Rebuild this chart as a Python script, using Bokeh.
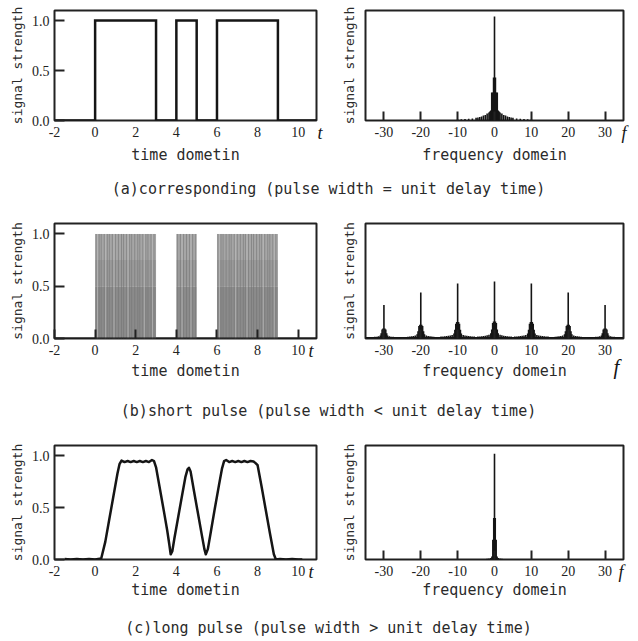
from bokeh.plotting import figure
from bokeh.layouts import column, row
from bokeh.models import Range1d, FixedTicker, PrintfTickFormatter, LinearAxis
from bokeh.core.properties import value
from bokeh.embed import file_html
from bokeh.resources import INLINE

# ---------------- data ----------------
pulse_start = [0, 4, 6]
pulse_end = [3, 5, 9]
t_ticks = [-2, 0, 2, 4, 6, 8, 10]
f_ticks = [-30, -20, -10, 0, 10, 20, 30]
s_ticks = [0.0, 0.5, 1.0]

# (b) short pulse train: grey bands and streaks inside the pulse windows
b_band_bottom = [0.0, 0.5, 0.75]
b_band_top = [0.5, 0.75, 1.0]
b_band_color = ["#8b8b8b", "#9a9a9a", "#a6a6a6"]
b_dark_streaks = [0.05, 0.2, 0.3, 0.45, 0.6, 0.7, 0.85, 1.0, 1.15, 1.3, 1.4, 1.55, 1.7,
                  1.8, 1.95, 2.1, 2.2, 2.35, 2.5, 2.6, 2.75, 2.9,
                  4.05, 4.2, 4.35, 4.5, 4.65, 4.8, 4.95,
                  6.05, 6.2, 6.3, 6.45, 6.6, 6.7, 6.85, 7.0, 7.15, 7.3, 7.4, 7.55, 7.7,
                  7.8, 7.95, 8.1, 8.2, 8.35, 8.5, 8.6, 8.75, 8.9]
b_light_streaks = [0.12, 0.52, 0.93, 1.62, 2.42, 2.83, 4.28, 4.72, 6.12, 6.92, 7.48, 8.28, 8.82]

# (c) long pulse: smoothed signal
t_c = [-1.5, -1.2, -0.9, -0.6, -0.3, 0.0, 0.3, 0.5, 0.7, 0.9, 1.1, 1.2, 1.3, 1.45, 1.6,
       1.75, 1.9, 2.05, 2.2, 2.35, 2.5, 2.65, 2.8, 2.9, 3.0, 3.2, 3.4, 3.55, 3.65, 3.72,
       3.8, 3.9, 4.1, 4.3, 4.45, 4.55, 4.62, 4.7, 4.85, 5.05, 5.25, 5.38, 5.45, 5.55, 5.7,
       5.9, 6.1, 6.25, 6.35, 6.45, 6.6, 6.75, 6.9, 7.05, 7.2, 7.35, 7.5, 7.65, 7.8, 7.9,
       8.0, 8.2, 8.4, 8.6, 8.8, 8.9, 9.1, 9.4, 9.7, 10.0, 10.2]
s_c = [0.005, 0.0, 0.005, 0.0, 0.005, 0.0, 0.01, 0.17, 0.39, 0.61, 0.83, 0.92, 0.955, 0.94, 0.95,
       0.94, 0.95, 0.94, 0.95, 0.94, 0.95, 0.94, 0.96, 0.95, 0.89, 0.67, 0.45, 0.28, 0.15, 0.05,
       0.08, 0.2, 0.42, 0.64, 0.8, 0.87, 0.885, 0.85, 0.68, 0.46, 0.24, 0.1, 0.05, 0.1, 0.27,
       0.5, 0.72, 0.88, 0.95, 0.96, 0.94, 0.95, 0.94, 0.95, 0.94, 0.95, 0.94, 0.95, 0.945, 0.93,
       0.91, 0.7, 0.48, 0.26, 0.05, 0.0, 0.005, 0.0, 0.005, 0.0, 0.0]

# (a) spectrum (one side, mirrored)
spec_a_f = [0, 0.25, 0.5, 0.75, 1.0, 1.25, 1.5, 2.0, 2.5, 3.0, 3.5, 4.0, 4.5, 5.0, 6.0, 7.0, 8.0, 9.0, 10.0]
spec_a_amp = [1.04, 0.43, 0.28, 0.28, 0.10, 0.09, 0.08, 0.07, 0.055, 0.05, 0.04, 0.035, 0.03,
              0.027, 0.02, 0.017, 0.014, 0.012, 0.01]
floor_a = 0.006

# (b) spectrum: comb of peaks, each with the same relative base shape
comb_f = [-30, -20, -10, 0, 10, 20, 30]
comb_amp = [0.32, 0.44, 0.525, 0.545, 0.525, 0.44, 0.32]
comb_off = [0.25, 0.5, 0.75, 1.0, 1.5, 2.0, 2.5, 3.0, 3.5, 4.0, 4.5]
comb_rel = [0.3, 0.27, 0.16, 0.09, 0.065, 0.055, 0.05, 0.045, 0.04, 0.035, 0.035]
floor_b = 0.015

# (c) spectrum (one side, mirrored)
spec_c_f = [0, 0.2, 0.45, 0.7, 1.0, 1.5, 2.0]
spec_c_amp = [1.02, 0.40, 0.19, 0.03, 0.015, 0.01, 0.008]
floor_c = 0.004

captions = ["(a)corresponding (pulse width = unit delay time)",
            "(b)short pulse (pulse width < unit delay time)",
            "(c)long pulse (pulse width > unit delay time)"]

T_RANGE = (-2.0, 10.9)
F_RANGE = (-35.0, 35.0)
Y_RANGE = (0.0, 1.1)

MONO = "DejaVu Sans Mono"
SERIF = "Liberation Serif"
INK = "#151515"
NB = "\u00a0"


def make_fig(W, H, L, R, T, B, xr):
    p = figure(width=W, height=H, x_range=Range1d(*xr), y_range=Range1d(*Y_RANGE),
               output_backend="svg", toolbar_location=None,
               min_border_left=L, min_border_right=R, min_border_top=T, min_border_bottom=B)
    p.xgrid.visible = False
    p.ygrid.visible = False
    p.outline_line_color = "#222222"
    p.outline_line_width = 2
    p.background_fill_color = "white"
    p.border_fill_color = "white"
    for ax in (p.xaxis[0], p.yaxis[0]):
        ax.axis_line_color = None
        ax.minor_tick_line_color = None
        ax.major_tick_out = 0
        ax.major_tick_line_color = "#222222"
        ax.major_tick_line_width = 2
        ax.major_label_text_font = SERIF
        ax.major_label_text_font_size = "14px"
        ax.major_label_text_color = "#222222"
        ax.axis_label_text_font = MONO
        ax.axis_label_text_font_style = "normal"
        ax.axis_label_text_color = "#2a2a2a"
    p.yaxis.axis_label = "signal strength"
    p.yaxis.axis_label_text_font_size = "13px"
    p.xaxis.axis_label_text_font_size = "15px"
    p.xaxis.major_label_standoff = 6
    return p


def var_label(p, name, standoff, size, drop):
    # italic variable name (t or f) near the right end of the horizontal axis;
    # blank leading lines push it down to the tick-label level
    text = (NB + "\n") * drop + name
    ax = LinearAxis(ticker=FixedTicker(ticks=[Y_RANGE[0]]), formatter=PrintfTickFormatter(format=text))
    ax.axis_line_color = None
    ax.major_tick_line_color = None
    ax.minor_tick_line_color = None
    ax.major_tick_in = 0
    ax.major_tick_out = 0
    ax.major_label_standoff = standoff
    ax.major_label_text_font = SERIF
    ax.major_label_text_font_style = "italic"
    ax.major_label_text_font_size = size
    ax.major_label_text_color = "#151515"
    p.add_layout(ax, "right")


def time_fig(H, T, B, x_ticks_in, xlabel_standoff, t_standoff):
    p = make_fig(338, H, 54, 22, T, B, T_RANGE)
    p.xaxis.ticker = FixedTicker(ticks=t_ticks)
    p.xaxis.formatter = PrintfTickFormatter(format="%d")
    p.xaxis.major_tick_in = 9 if x_ticks_in else 0
    p.xaxis.axis_label = "time dometin"
    p.xaxis.axis_label_standoff = xlabel_standoff
    p.yaxis.ticker = FixedTicker(ticks=s_ticks)
    p.yaxis.formatter = PrintfTickFormatter(format="%.1f")
    p.yaxis.major_tick_in = 10
    p.yaxis.major_label_standoff = 5
    p.yaxis.axis_label_standoff = 4
    var_label(p, "t", t_standoff, "18px", 1)
    return p


def freq_fig(H, T, B, xlabel_standoff, f_standoff, f_size, drop):
    p = make_fig(300, H, 22, 15, T, B, F_RANGE)
    p.xaxis.ticker = FixedTicker(ticks=f_ticks)
    p.xaxis.formatter = PrintfTickFormatter(format="%d")
    p.xaxis.major_tick_in = 9
    p.xaxis.axis_label = "frequency domein"
    p.xaxis.axis_label_standoff = xlabel_standoff
    p.yaxis.ticker = FixedTicker(ticks=[])
    p.yaxis.major_tick_in = 0
    p.yaxis.axis_label_standoff = 9
    var_label(p, "f", f_standoff, f_size, drop)
    return p


def spectrum(p, fs, amps, floor, width=1.6):
    p.quad(left=[F_RANGE[0]], right=[F_RANGE[1]], bottom=[0], top=[floor],
           fill_color=INK, line_color=None)
    p.segment(x0=fs, y0=[0] * len(fs), x1=fs, y1=amps, line_color=INK, line_width=width)


def mirror(fs, amps):
    xs, ys = [], []
    for f, a in zip(fs, amps):
        xs.append(f)
        ys.append(a)
        if f != 0:
            xs.append(-f)
            ys.append(a)
    return xs, ys


def caption_fig(h, cy, text):
    c = figure(width=638, height=h, x_range=Range1d(0, 638), y_range=Range1d(0, h),
               output_backend="svg", toolbar_location=None,
               x_axis_location=None, y_axis_location=None, min_border=0)
    c.outline_line_color = None
    c.xgrid.visible = False
    c.ygrid.visible = False
    c.text(x=[328], y=[h - cy], text=[text], text_font=value(MONO), text_font_size="15px",
           text_align="center", text_baseline="middle", text_color="#2a2a2a")
    return c


# ---------------- row (a) ----------------
pa1 = time_fig(172, 10, 52, False, 6, 1)
xs, ys = [T_RANGE[0]], [0]
for s, e in zip(pulse_start, pulse_end):
    xs += [s, s, e, e]
    ys += [0, 1, 1, 0]
xs.append(T_RANGE[1])
ys.append(0)
pa1.line(xs, ys, line_color=INK, line_width=2.5, line_join="miter")

pa2 = freq_fig(172, 10, 52, 6, -2, "18px", 1)
fa, aa = mirror(spec_a_f, spec_a_amp)
spectrum(pa2, fa, aa, floor_a)

# ---------------- row (b) ----------------
pb1 = time_fig(186, 21, 50, True, 4, -8)
for s, e in zip(pulse_start, pulse_end):
    pb1.quad(left=[s] * 3, right=[e] * 3, bottom=b_band_bottom, top=b_band_top,
             fill_color=b_band_color, line_color=None)
pb1.segment(x0=b_dark_streaks, y0=[0] * len(b_dark_streaks), x1=b_dark_streaks,
            y1=[1.0] * len(b_dark_streaks), line_color="#747474", line_width=1, line_alpha=0.6)
pb1.segment(x0=b_light_streaks, y0=[0] * len(b_light_streaks), x1=b_light_streaks,
            y1=[1.0] * len(b_light_streaks), line_color="#bdbdbd", line_width=1, line_alpha=0.7)
pb1.line([T_RANGE[0], T_RANGE[1]], [0, 0], line_color=INK, line_width=2)

pb2 = freq_fig(186, 21, 50, 4, -10, "21px", 2)
fb, ab = [], []
for cf, ca in zip(comb_f, comb_amp):
    fb.append(cf)
    ab.append(ca)
    for o, r in zip(comb_off, comb_rel):
        for sgn in (-1, 1):
            fb.append(cf + sgn * o)
            ab.append(ca * r)
spectrum(pb2, fb, ab, floor_b)

# ---------------- row (c) ----------------
pc1 = time_fig(181, 21, 46, False, 2, -8)
pc1.line(t_c, s_c, line_color=INK, line_width=2.5, line_join="round")

pc2 = freq_fig(181, 21, 46, 2, -5, "18px", 1)
fc, ac = mirror(spec_c_f, spec_c_amp)
spectrum(pc2, fc, ac, floor_c)

layout = column(
    row(pa1, pa2), caption_fig(30, 16, captions[0]),
    row(pb1, pb2), caption_fig(36, 22, captions[1]),
    row(pc1, pc2), caption_fig(36, 22, captions[2]),
)

open("out.html", "w").write(file_html(layout, INLINE))
